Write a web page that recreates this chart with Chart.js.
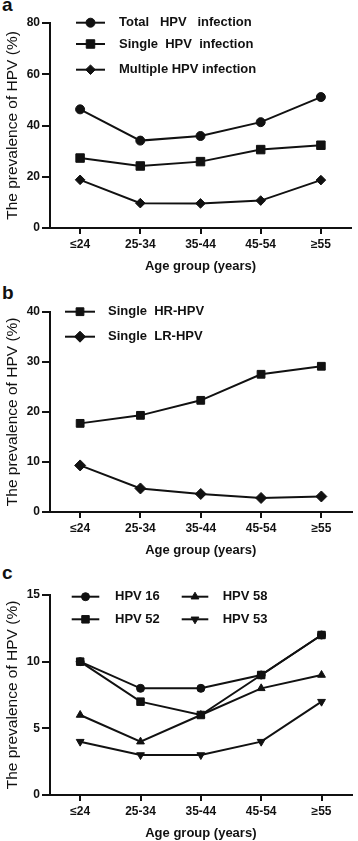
<!DOCTYPE html>
<html lang="en">
<head>
<meta charset="UTF-8">
<title>HPV prevalence by age group</title>
<style>
  body { margin: 0; background: #fff; width: 358px; height: 841px; position: relative; overflow: hidden; }
  .panel { position: absolute; left: 0; width: 358px; }
  .letter { position: absolute; left: 2px; font: bold 19px "Liberation Sans", Arial, sans-serif; line-height: 19px; color: #111; }
</style>
<script src="https://cdn.jsdelivr.net/npm/chart.js"></script>
</head>
<body>
<div class="letter" style="top:-5px">a</div>
<div class="letter" style="top:283px">b</div>
<div class="letter" style="top:563px">c</div>

<div class="panel" style="top:0;height:278px"><canvas id="chartA"></canvas></div>
<div class="panel" style="top:283px;height:279px"><canvas id="chartB"></canvas></div>
<div class="panel" style="top:560px;height:285px"><canvas id="chartC"></canvas></div>

<script>
// data
const ageGroups = ['≤24', '25-34', '35-44', '45-54', '≥55'];

// panel a
const totalHPV = [46.3, 34.1, 35.9, 41.3, 51.1];
const singleHPV = [27.3, 24.2, 25.9, 30.6, 32.3];
const multipleHPV = [18.8, 9.7, 9.6, 10.7, 18.7];

// panel b
const singleHR = [17.7, 19.3, 22.3, 27.5, 29.1];
const singleLR = [9.3, 4.7, 3.6, 2.8, 3.1];

// panel c
const hpv16 = [10, 8, 8, 9, 12];
const hpv52 = [10, 7, 6, 9, 12];
const hpv58 = [6, 4, 6, 8, 9];
const hpv53 = [4, 3, 3, 4, 7];

const ink = '#111';
const family = '"Liberation Sans", Arial, sans-serif';
const tickFont = { family: family, size: 12, weight: 'bold' };

// GraphPad-style legend: short line with the marker in the middle
const lineLegend = {
    id: 'lineLegend',
    afterDraw(chart, args, opts) {
        const ctx = chart.ctx;
        chart.data.datasets.forEach((ds, i) => {
            const it = opts.items[i];
            if (!it) return;
            ctx.save();
            ctx.strokeStyle = ink;
            ctx.fillStyle = ink;
            ctx.lineWidth = 2;
            ctx.beginPath();
            ctx.moveTo(it.x0, it.y);
            ctx.lineTo(it.x1, it.y);
            ctx.stroke();
            ctx.lineWidth = 1;
            Chart.helpers.drawPoint(ctx, {
                pointStyle: ds.pointStyle,
                radius: ds.pointRadius,
                rotation: ds.pointRotation || 0,
                borderWidth: 1
            }, (it.x0 + it.x1) / 2, it.y);
            ctx.font = 'bold 13px ' + family;
            ctx.textBaseline = 'middle';
            ctx.textAlign = 'left';
            ctx.fillText(ds.label, it.tx, it.y);
            ctx.restore();
        });
    }
};

function series(label, data, style, radius, rotation, order) {
    return {
        label: label,
        data: data,
        borderColor: ink,
        backgroundColor: ink,
        borderWidth: 2,
        pointStyle: style,
        pointRadius: radius,
        pointRotation: rotation || 0,
        pointBackgroundColor: ink,
        pointBorderColor: ink,
        pointBorderWidth: 1,
        tension: 0,
        clip: false,
        order: order || 0
    };
}

function makePanel(id, datasets, yMax, yStep, padTop, legendItems) {
    return new Chart(document.getElementById(id), {
        type: 'line',
        data: { labels: ageGroups, datasets: datasets },
        options: {
            responsive: true,
            maintainAspectRatio: false,
            animation: false,
            layout: { padding: { top: padTop, right: 4, bottom: 0, left: 0 } },
            plugins: {
                legend: { display: false },
                tooltip: { enabled: false },
                lineLegend: { items: legendItems }
            },
            scales: {
                x: {
                    offset: true,
                    grid: { display: true, drawOnChartArea: false, drawTicks: true, tickLength: 6, offset: false, color: ink, lineWidth: 2 },
                    border: { display: true, color: ink, width: 2 },
                    ticks: { color: ink, font: tickFont, padding: 3, maxRotation: 0, autoSkip: false },
                    title: { display: true, text: 'Age group (years)', color: ink, font: { family: family, size: 13, weight: 'bold' }, padding: { top: 4, bottom: 4 } },
                    afterFit: s => { s.height = 50; }
                },
                y: {
                    min: 0,
                    max: yMax,
                    ticks: { stepSize: yStep, color: ink, font: tickFont, padding: 2 },
                    grid: { display: true, drawOnChartArea: false, drawTicks: true, tickLength: 8, color: ink, lineWidth: 2 },
                    border: { display: true, color: ink, width: 2 },
                    title: { display: true, text: 'The prevalence of HPV (%)', color: ink, font: { family: family, size: 15.5 }, padding: { top: 3, bottom: 0 } },
                    afterFit: s => { s.width = 50; }
                }
            }
        },
        plugins: [lineLegend]
    });
}

const sp = '\u00a0';

makePanel('chartA', [
    series('Total' + sp.repeat(3) + 'HPV' + sp.repeat(3) + 'infection', totalHPV, 'circle', 4.5),
    series('Single' + sp.repeat(2) + 'HPV' + sp.repeat(2) + 'infection', singleHPV, 'rect', 6),
    series('Multiple HPV infection', multipleHPV, 'rectRot', 4.8)
], 80, 20, 23, [
    { x0: 76, x1: 105, y: 22.7, tx: 119 },
    { x0: 76, x1: 105, y: 44, tx: 119 },
    { x0: 76, x1: 105, y: 69.7, tx: 119 }
]);

makePanel('chartB', [
    series('Single' + sp.repeat(2) + 'HR-HPV', singleHR, 'rect', 5.5),
    series('Single' + sp.repeat(2) + 'LR-HPV', singleLR, 'rectRot', 5.5)
], 40, 10, 28.7, [
    { x0: 65, x1: 95, y: 28.7, tx: 108 },
    { x0: 65, x1: 95, y: 53.7, tx: 108 }
]);

makePanel('chartC', [
    series('HPV 16', hpv16, 'circle', 4, 0, 1),
    series('HPV 52', hpv52, 'rect', 5.3, 0, 0),
    series('HPV 58', hpv58, 'triangle', 4.5, 0, 1),
    series('HPV 53', hpv53, 'triangle', 4.5, 180, 1)
], 15, 5, 35, [
    { x0: 71.7, x1: 99.3, y: 36.7, tx: 115 },
    { x0: 71.7, x1: 99.3, y: 59.3, tx: 115 },
    { x0: 181.7, x1: 208.3, y: 36.7, tx: 222.7 },
    { x0: 181.7, x1: 208.3, y: 59.3, tx: 222.7 }
]);
</script>
</body>
</html>
